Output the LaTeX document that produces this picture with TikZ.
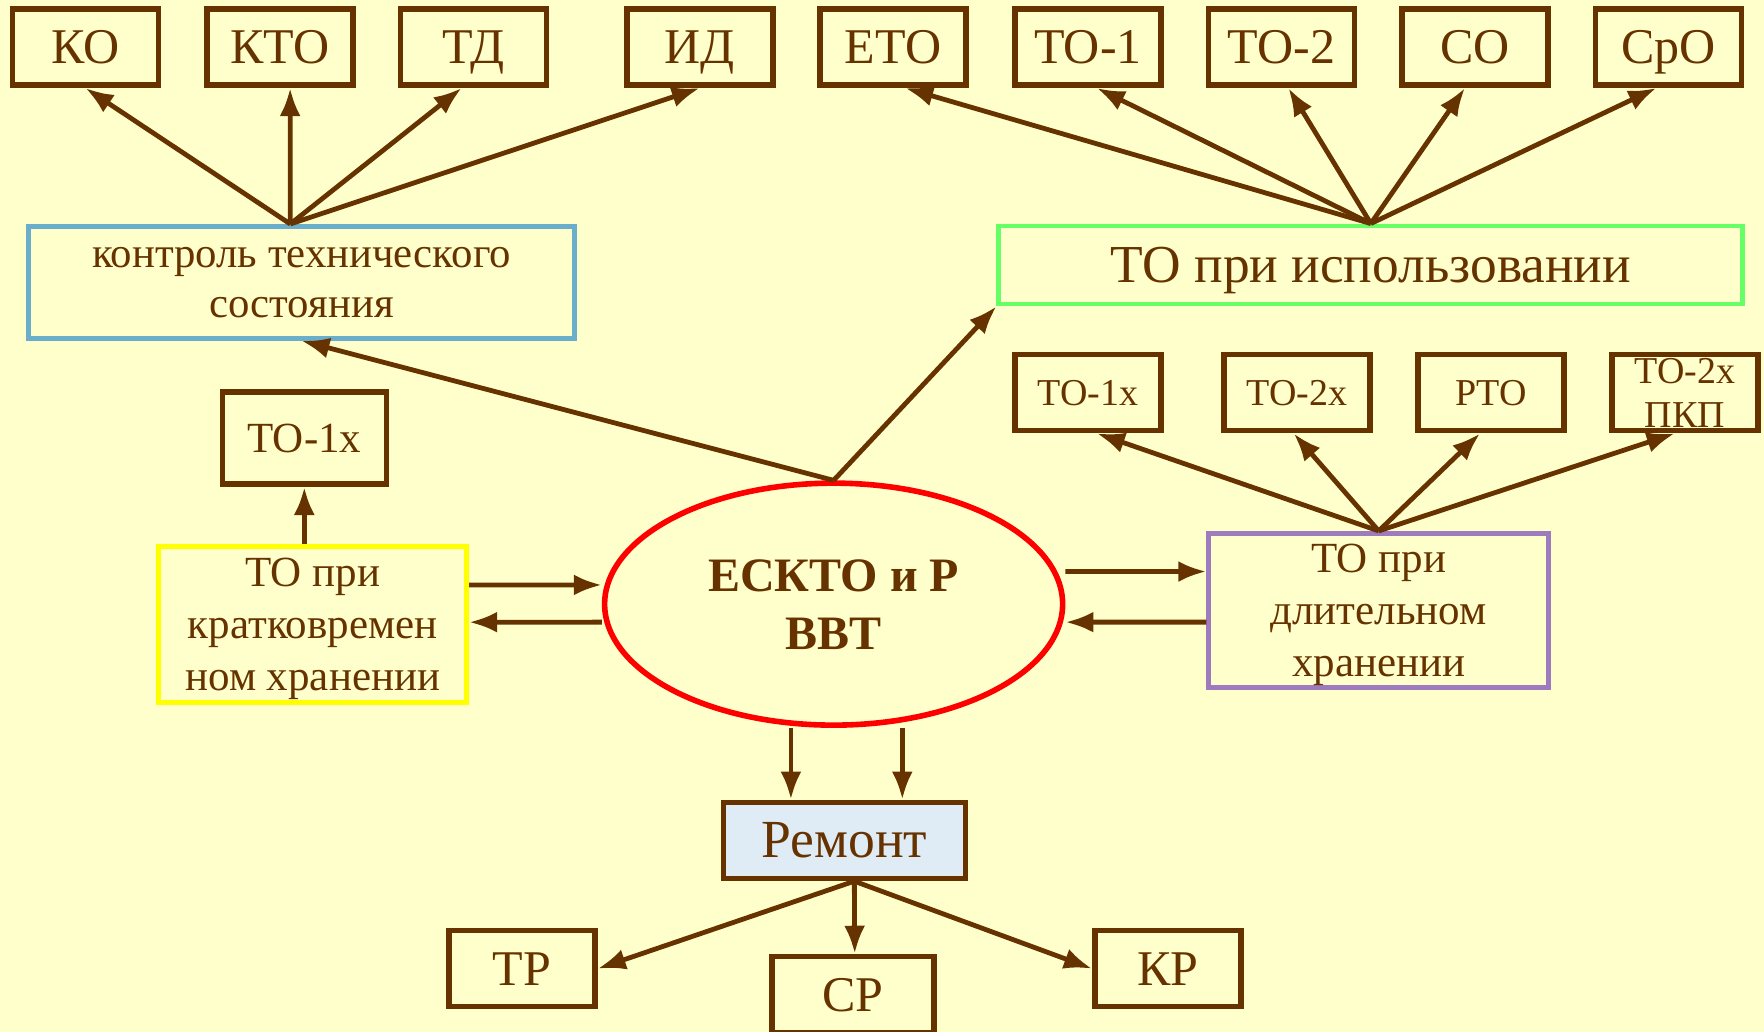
\documentclass[tikz,border=0pt]{standalone}
\usepackage{fontspec}
\setmainfont{Liberation Serif}
\usetikzlibrary{arrows.meta,shapes.geometric}
\definecolor{fon}{HTML}{FFFFCC}
\definecolor{korich}{HTML}{663300}
\definecolor{goluboj}{RGB}{106,174,204}
\definecolor{zelenyj}{HTML}{66FF66}
\definecolor{zheltyj}{HTML}{FFFF00}
\definecolor{fiolet}{RGB}{158,123,191}
\definecolor{remfon}{HTML}{DFEBF5}

\begin{document}
\begin{tikzpicture}[x=0.5625pt,y=-0.5625pt,
    every node/.style={text=korich,align=center,inner sep=0pt,text depth=0pt},
    box/.style={draw=korich,line width=2.8pt,minimum width=73pt,minimum height=38pt,font=\fontsize{25}{29}\selectfont},
    mbox/.style={box,font=\fontsize{19}{22}\selectfont},
    cbox/.style={line width=2.4pt,font=\fontsize{21.5}{26}\selectfont},
    arr/.style={draw=korich,line width=2.4pt,-{Latex[length=14pt,width=10.5pt]}}]
            \fill[fon] (0,0) rectangle (1568,917);
            \useasboundingbox (0,0) rectangle (1568,917);
            \node[box] (ko) at (76,42) {КО};
            \node[box] (kto) at (249,42) {КТО};
            \node[box] (td) at (421,42) {ТД};
            \node[box] (id) at (622,42) {ИД};
            \node[box] (eto) at (794,42) {ЕТО};
            \node[box] (toa) at (967,42) {ТО-1};
            \node[box] (tob) at (1139,42) {ТО-2};
            \node[box] (so) at (1311,42) {СО};
            \node[box] (sro) at (1483,42) {СрО};
            \node[cbox,draw=goluboj,minimum width=273pt,minimum height=56pt,text depth=-4pt,font=\fontsize{21.4}{25}\selectfont] (ktc) at (268,251) {контроль технического\\состояния};
            \node[cbox,draw=zelenyj,minimum width=372pt,minimum height=39pt,font=\fontsize{26.7}{30}\selectfont] (tpi) at (1218.5,235.5) {ТО при использовании};
            \node[draw=red,line width=2.8pt,ellipse,minimum width=229pt,minimum height=121pt,text depth=-3.4pt,font=\bfseries\fontsize{24}{29}\selectfont] (esk) at (741,537) {ЕСКТО и Р\\ВВТ};
            \node[box,minimum width=82pt,minimum height=46pt,font=\fontsize{21.5}{26}\selectfont] (tolx) at (270.5,389.5) {ТО-1х};
            \node[cbox,draw=zheltyj,minimum width=154pt,minimum height=78pt] (kr) at (278,555) {ТО при\\кратковремен\\ном хранении};
            \node[cbox,draw=fiolet,minimum width=170pt,minimum height=77pt] (dl) at (1225.5,542.5) {ТО при\\длительном\\хранении};
            \node[mbox] (tox) at (967,349) {ТО-1х};
            \node[mbox] (tdx) at (1153,349) {ТО-2х};
            \node[mbox] (rto) at (1325.5,349) {РТО};
            \node[mbox] (pkp) at (1497.5,349) {ТО-2х\\ПКП};
            \node[box,fill=remfon,minimum width=121pt,font=\fontsize{26.8}{30}\selectfont] (rem) at (750.5,747) {Ремонт};
            \node[box] (tr) at (464,861) {ТР};
            \node[box,minimum width=81pt] (sr) at (758,884) {СР};
            \node[box] (kr2) at (1038,861) {КР};
            \draw[arr] ([xshift=-5.6pt]ktc.north) -- (ko.south);
            \draw[arr] ([xshift=-5.6pt]ktc.north) -- ([xshift=5pt]kto.south);
            \draw[arr] ([xshift=-5.6pt]ktc.north) -- ([xshift=-6pt]td.south);
            \draw[arr] ([xshift=-5.6pt]ktc.north) -- (id.south);
            \draw[arr] (tpi.north) -- ([xshift=6pt]eto.south);
            \draw[arr] (tpi.north) -- ([xshift=4.5pt]toa.south);
            \draw[arr] (tpi.north) -- ([xshift=3.5pt]tob.south);
            \draw[arr] (tpi.north) -- ([xshift=-5pt]so.south);
            \draw[arr] (tpi.north) -- ([xshift=-6pt]sro.south);
            \draw[arr] (esk.north) -- (ktc.south);
            \draw[arr] (esk.north) -- (tpi.south west);
            \draw[arr] (kr.north -| tolx.south) -- (tolx.south);
            \draw[arr] ([yshift=19.7pt]kr.east) -- ([yshift=9.6pt]esk.west);
            \draw[arr] ([yshift=-9pt]esk.west) -- ([yshift=1.1pt]kr.east);
            \draw[arr] ([yshift=16.3pt]esk.east) -- ([yshift=19.4pt]dl.west);
            \draw[arr] ([yshift=-5.9pt]dl.west) -- ([yshift=-9pt]esk.east);
            \draw[arr] (dl.north) -- ([xshift=4.5pt]tox.south);
            \draw[arr] (dl.north) -- ([xshift=-1.7pt]tdx.south);
            \draw[arr] (dl.north) -- ([xshift=-5.6pt]rto.south);
            \draw[arr] (dl.north) -- ([xshift=-5pt]pkp.south);
            \draw[arr] ([xshift=-26.7pt]rem.north |- esk.south) -- ([xshift=-26.7pt]rem.north);
            \draw[arr] ([xshift=29pt]rem.north |- esk.south) -- ([xshift=29pt]rem.north);
            \draw[arr] ([xshift=5pt]rem.south) -- (tr.east);
            \draw[arr] ([xshift=5pt]rem.south) -- ([xshift=1pt]sr.north);
            \draw[arr] ([xshift=5pt]rem.south) -- (kr2.west);
        \end{tikzpicture}
\end{document}
